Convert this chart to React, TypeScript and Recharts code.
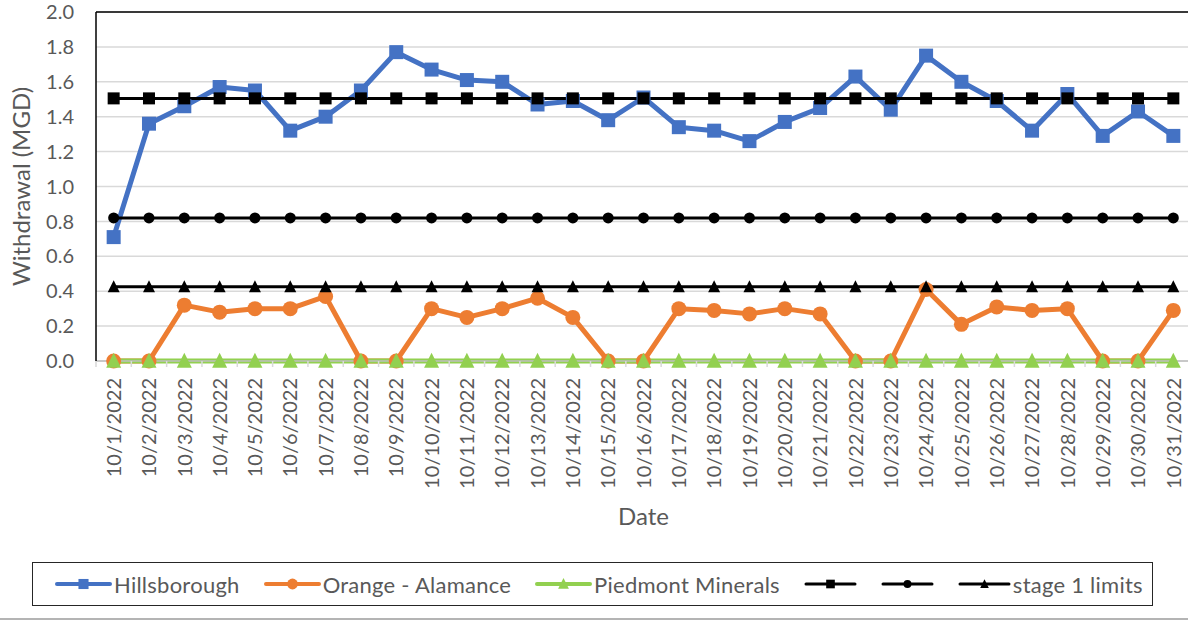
import React from 'react';
import { LineChart, Line, XAxis, YAxis, CartesianGrid, ReferenceLine } from 'recharts';

const dates = [
  '10/1/2022', '10/2/2022', '10/3/2022', '10/4/2022', '10/5/2022', '10/6/2022', '10/7/2022', '10/8/2022',
  '10/9/2022', '10/10/2022', '10/11/2022', '10/12/2022', '10/13/2022', '10/14/2022', '10/15/2022', '10/16/2022',
  '10/17/2022', '10/18/2022', '10/19/2022', '10/20/2022', '10/21/2022', '10/22/2022', '10/23/2022', '10/24/2022',
  '10/25/2022', '10/26/2022', '10/27/2022', '10/28/2022', '10/29/2022', '10/30/2022', '10/31/2022',
];

const hillsborough = [
  0.71, 1.36, 1.46, 1.57, 1.55, 1.32, 1.40, 1.55, 1.77, 1.67, 1.61, 1.60, 1.47, 1.49, 1.38, 1.51,
  1.34, 1.32, 1.26, 1.37, 1.45, 1.63, 1.44, 1.75, 1.60, 1.49, 1.32, 1.53, 1.29, 1.43, 1.29,
];

const orangeAlamance = [
  0, 0, 0.32, 0.28, 0.30, 0.30, 0.37, 0, 0, 0.30, 0.25, 0.30, 0.36, 0.25, 0, 0,
  0.30, 0.29, 0.27, 0.30, 0.27, 0, 0, 0.41, 0.21, 0.31, 0.29, 0.30, 0, 0, 0.29,
];

const piedmontMinerals = [
  0, 0, 0, 0, 0, 0, 0, 0, 0, 0, 0, 0, 0, 0, 0, 0,
  0, 0, 0, 0, 0, 0, 0, 0, 0, 0, 0, 0, 0, 0, 0,
];

const limitSquare = [
  1.505, 1.505, 1.505, 1.505, 1.505, 1.505, 1.505, 1.505, 1.505, 1.505, 1.505, 1.505, 1.505, 1.505, 1.505, 1.505,
  1.505, 1.505, 1.505, 1.505, 1.505, 1.505, 1.505, 1.505, 1.505, 1.505, 1.505, 1.505, 1.505, 1.505, 1.505,
];

const limitCircle = [
  0.82, 0.82, 0.82, 0.82, 0.82, 0.82, 0.82, 0.82, 0.82, 0.82, 0.82, 0.82, 0.82, 0.82, 0.82, 0.82,
  0.82, 0.82, 0.82, 0.82, 0.82, 0.82, 0.82, 0.82, 0.82, 0.82, 0.82, 0.82, 0.82, 0.82, 0.82,
];

const limitTriangle = [
  0.425, 0.425, 0.425, 0.425, 0.425, 0.425, 0.425, 0.425, 0.425, 0.425, 0.425, 0.425, 0.425, 0.425, 0.425, 0.425,
  0.425, 0.425, 0.425, 0.425, 0.425, 0.425, 0.425, 0.425, 0.425, 0.425, 0.425, 0.425, 0.425, 0.425, 0.425,
];

const yTicks = [0, 0.2, 0.4, 0.6, 0.8, 1.0, 1.2, 1.4, 1.6, 1.8, 2.0];

const data = dates.map((date, i) => ({
  date,
  hillsborough: hillsborough[i],
  orange: orangeAlamance[i],
  piedmont: piedmontMinerals[i],
  limitSquare: limitSquare[i],
  limitCircle: limitCircle[i],
  limitTriangle: limitTriangle[i],
}));

type Shape = 'square' | 'circle' | 'triangle';

const series: { key: string; name: string; color: string; width: number; shape: Shape; size: number; legendW: number }[] = [
  { key: 'hillsborough', name: 'Hillsborough', color: '#4472C4', width: 5, shape: 'square', size: 14, legendW: 57 },
  { key: 'orange', name: 'Orange - Alamance', color: '#ED7D31', width: 5, shape: 'circle', size: 15, legendW: 57 },
  { key: 'piedmont', name: 'Piedmont Minerals', color: '#92D050', width: 5, shape: 'triangle', size: 15, legendW: 57 },
  { key: 'limitSquare', name: '', color: '#000000', width: 3, shape: 'square', size: 12, legendW: 53 },
  { key: 'limitCircle', name: '', color: '#000000', width: 3, shape: 'circle', size: 11, legendW: 53 },
  { key: 'limitTriangle', name: 'stage 1 limits', color: '#000000', width: 3, shape: 'triangle', size: 12, legendW: 53 },
];

const FONT = 'Lato, "Open Sans", sans-serif';
const TEXT = '#595959';
const CHART_W = 1192;
const CHART_H = 622;
const Y_AXIS_W = 96;
const MARGIN = { top: 12, right: 1, bottom: 91, left: 0 };
const PLOT_W = CHART_W - Y_AXIS_W - MARGIN.left - MARGIN.right;
const HALF = PLOT_W / dates.length / 2;

function Marker({ cx, cy, shape, size, color }: { cx?: number; cy?: number; shape: Shape; size: number; color: string }) {
  if (cx == null || cy == null || isNaN(cx) || isNaN(cy)) return null;
  const h = size / 2;
  if (shape === 'square') return <rect x={cx - h} y={cy - h} width={size} height={size} fill={color} />;
  if (shape === 'circle') return <circle cx={cx} cy={cy} r={h} fill={color} />;
  return (
    <polygon
      points={`${cx},${cy - size * 0.55} ${cx + h},${cy + size * 0.45} ${cx - h},${cy + size * 0.45}`}
      fill={color}
    />
  );
}

const XTick = (props: any) => {
  const { x, y, payload, index } = props;
  return (
    <g>
      <line x1={x - HALF} x2={x - HALF} y1={y} y2={y + 6} stroke="#d9d9d9" strokeWidth={1.5} />
      {index === dates.length - 1 && (
        <line x1={x + HALF} x2={x + HALF} y1={y} y2={y + 6} stroke="#d9d9d9" strokeWidth={1.5} />
      )}
      <text
        transform={`translate(${x},${y + 17}) rotate(-90)`}
        textAnchor="end"
        dy="0.36em"
        fill={TEXT}
        fontSize={20}
        fontFamily={FONT}
      >
        {payload.value}
      </text>
    </g>
  );
};

const YTitle = (props: any) => {
  const vb = props.viewBox || { x: 0, y: MARGIN.top, width: Y_AXIS_W, height: 349 };
  const cx = vb.x + 22;
  const cy = vb.y + vb.height / 2;
  return (
    <text
      transform={`translate(${cx},${cy}) rotate(-90)`}
      textAnchor="middle"
      dy="0.35em"
      fill={TEXT}
      fontSize={24}
      fontFamily={FONT}
    >
      Withdrawal (MGD)
    </text>
  );
};

const XTitle = (props: any) => {
  const vb = props.viewBox || { x: Y_AXIS_W, y: 361, width: PLOT_W, height: 170 };
  return (
    <text x={vb.x + vb.width / 2} y={vb.y + 164} textAnchor="middle" fill={TEXT} fontSize={24} fontFamily={FONT}>
      Date
    </text>
  );
};

function LegendIcon({ s }: { s: (typeof series)[number] }) {
  const w = s.legendW;
  const lw = s.color === '#000000' ? 3 : 4;
  return (
    <svg width={w} height={20} style={{ display: 'block' }}>
      <line x1={2} x2={w - 2} y1={10} y2={10} stroke={s.color} strokeWidth={lw} strokeLinecap="round" />
      <Marker cx={w / 2} cy={10} shape={s.shape} size={s.size * 0.72} color={s.color} />
    </svg>
  );
}

export default function App() {
  return (
    <div
      style={{
        position: 'absolute',
        left: 0,
        top: 0,
        width: 1188,
        height: 622,
        overflow: 'hidden',
        background: '#ffffff',
        fontFamily: FONT,
      }}
    >
      <LineChart width={CHART_W} height={CHART_H} data={data} margin={MARGIN} style={{ fontFamily: FONT }}>
        <CartesianGrid vertical={false} stroke="#d9d9d9" strokeWidth={1.5} />
        <XAxis
          dataKey="date"
          type="category"
          interval={0}
          height={170}
          padding={{ left: HALF, right: HALF }}
          tickLine={false}
          tickSize={0}
          tickMargin={0}
          axisLine={{ stroke: '#bfbfbf', strokeWidth: 1.5 }}
          tick={<XTick />}
          label={<XTitle />}
        />
        <YAxis
          width={Y_AXIS_W}
          domain={[0, 2]}
          ticks={yTicks}
          interval={0}
          tickFormatter={(v: number) => v.toFixed(1)}
          tickLine={false}
          tickSize={6}
          tickMargin={16}
          axisLine={{ stroke: '#000000', strokeWidth: 1.5 }}
          tick={{ fill: TEXT, fontSize: 20, fontFamily: FONT }}
          label={<YTitle />}
        />
        <ReferenceLine y={2} stroke="#000000" strokeWidth={1.5} />
        {series.map((s) => (
          <Line
            key={s.key}
            dataKey={s.key}
            name={s.name}
            stroke={s.color}
            strokeWidth={s.width}
            strokeLinejoin="round"
            isAnimationActive={false}
            activeDot={false}
            dot={(p: any) => (
              <Marker key={`${s.key}-${p.index}`} cx={p.cx} cy={p.cy} shape={s.shape} size={s.size} color={s.color} />
            )}
          />
        ))}
      </LineChart>

      <div
        style={{
          position: 'absolute',
          left: 32,
          top: 562,
          width: 1121,
          height: 44,
          border: '1.5px solid #262626',
          boxSizing: 'border-box',
          display: 'flex',
          alignItems: 'center',
          paddingLeft: 22,
          gap: 24,
          fontSize: 22,
          letterSpacing: 0.25,
          color: TEXT,
          whiteSpace: 'nowrap',
        }}
      >
        {series.map((s) => (
          <div key={s.key} style={{ display: 'flex', alignItems: 'center' }}>
            <LegendIcon s={s} />
            {s.name && <span style={{ marginLeft: 2 }}>{s.name}</span>}
          </div>
        ))}
      </div>

      <div style={{ position: 'absolute', left: 0, top: 618, width: 1188, height: 2, background: '#b4b4b4' }} />
    </div>
  );
}
